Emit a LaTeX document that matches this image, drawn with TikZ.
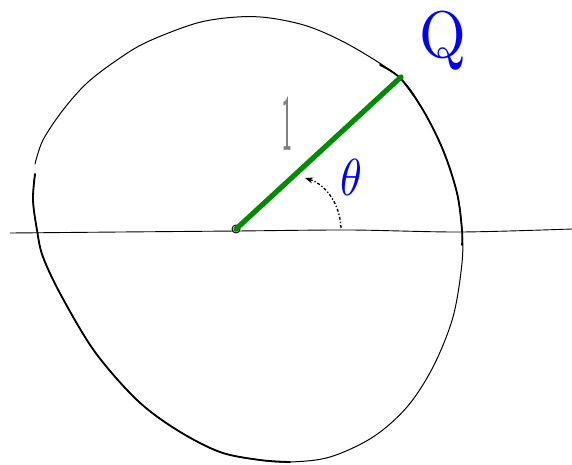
\documentclass[tikz,border=0pt]{standalone}
\usepackage{tikz}
\usetikzlibrary{arrows.meta}

\begin{document}
\begin{tikzpicture}[
  x=1pt, y=-1pt,
  rim/.style={draw=black, line width=1pt, line cap=round},
  rimthick/.style={draw=black, line width=1.8pt, line cap=round},
  axis/.style={draw=black, line width=0.9pt},
  radius line/.style={draw=green!55!black, line width=5.2pt, line cap=round},
  anglearc/.style={draw=black, line width=1.3pt, dash dot, -{Stealth[length=8pt]}},
  bluelabel/.style={text=blue, inner sep=0pt},
  graylabel/.style={text=gray, inner sep=0pt}
]
\useasboundingbox (0,0) rectangle (572,464);

% the wobbly circle
\draw[rim] plot[smooth, tension=0.55] coordinates {
  (35,164) (43,140) (63,110) (87,83) (117,60) (147,42) (197,23) (237,17)
  (270,18) (310,27) (353,47) (400,78) (423,110) (443,150) (457,193)
  (462,230) (462,263) (453,317) (433,367) (407,407) (373,437) (330,457)
  (290,462) (260,460) (220,452) (177,430) (137,400) (95,352)
  (62,297) (43,257) (37,230) (33,200) (35,174)};
\draw[rimthick] plot[smooth, tension=0.55] coordinates {
  (35,174) (33,200) (37,230) (43,257) (62,297) (95,352)
  (137,400) (177,430) (220,452) (260,460) (290,462)};
\draw[rimthick] plot[smooth, tension=0.55] coordinates {
  (380,65) (400,78) (423,110) (443,150) (457,193) (462,230) (462,245)};

% axis
\coordinate (axisL) at (10,233);
\coordinate (axisR) at (572,229);
\draw[axis] plot[smooth, tension=0.5] coordinates {(axisL) (120,232) (236,231) (350,230) (460,232) (axisR)};

% origin and the point Q
\node[draw, circle, inner sep=0pt, minimum size=8pt, line width=0.9pt] (O) at (236,229) {};
\coordinate (P) at (401,77);
\draw[radius line] (O.center) -- (P);

% angle
\coordinate (arcS) at (341,228);
\coordinate (arcE) at (305,178);
\draw[anglearc] (arcS) .. controls (340,205) and (327,185) .. (arcE);

% labels
\node[bluelabel, xscale=6, yscale=6.6] (Q) at (443,41) {Q};
\node[bluelabel, xscale=4.4, yscale=5.2] (theta) at (351,177) {$\theta$};
\node[graylabel, xscale=1.7, yscale=8.2, font=\bfseries] (one) at (287,124) {1};
\end{tikzpicture}
\end{document}
